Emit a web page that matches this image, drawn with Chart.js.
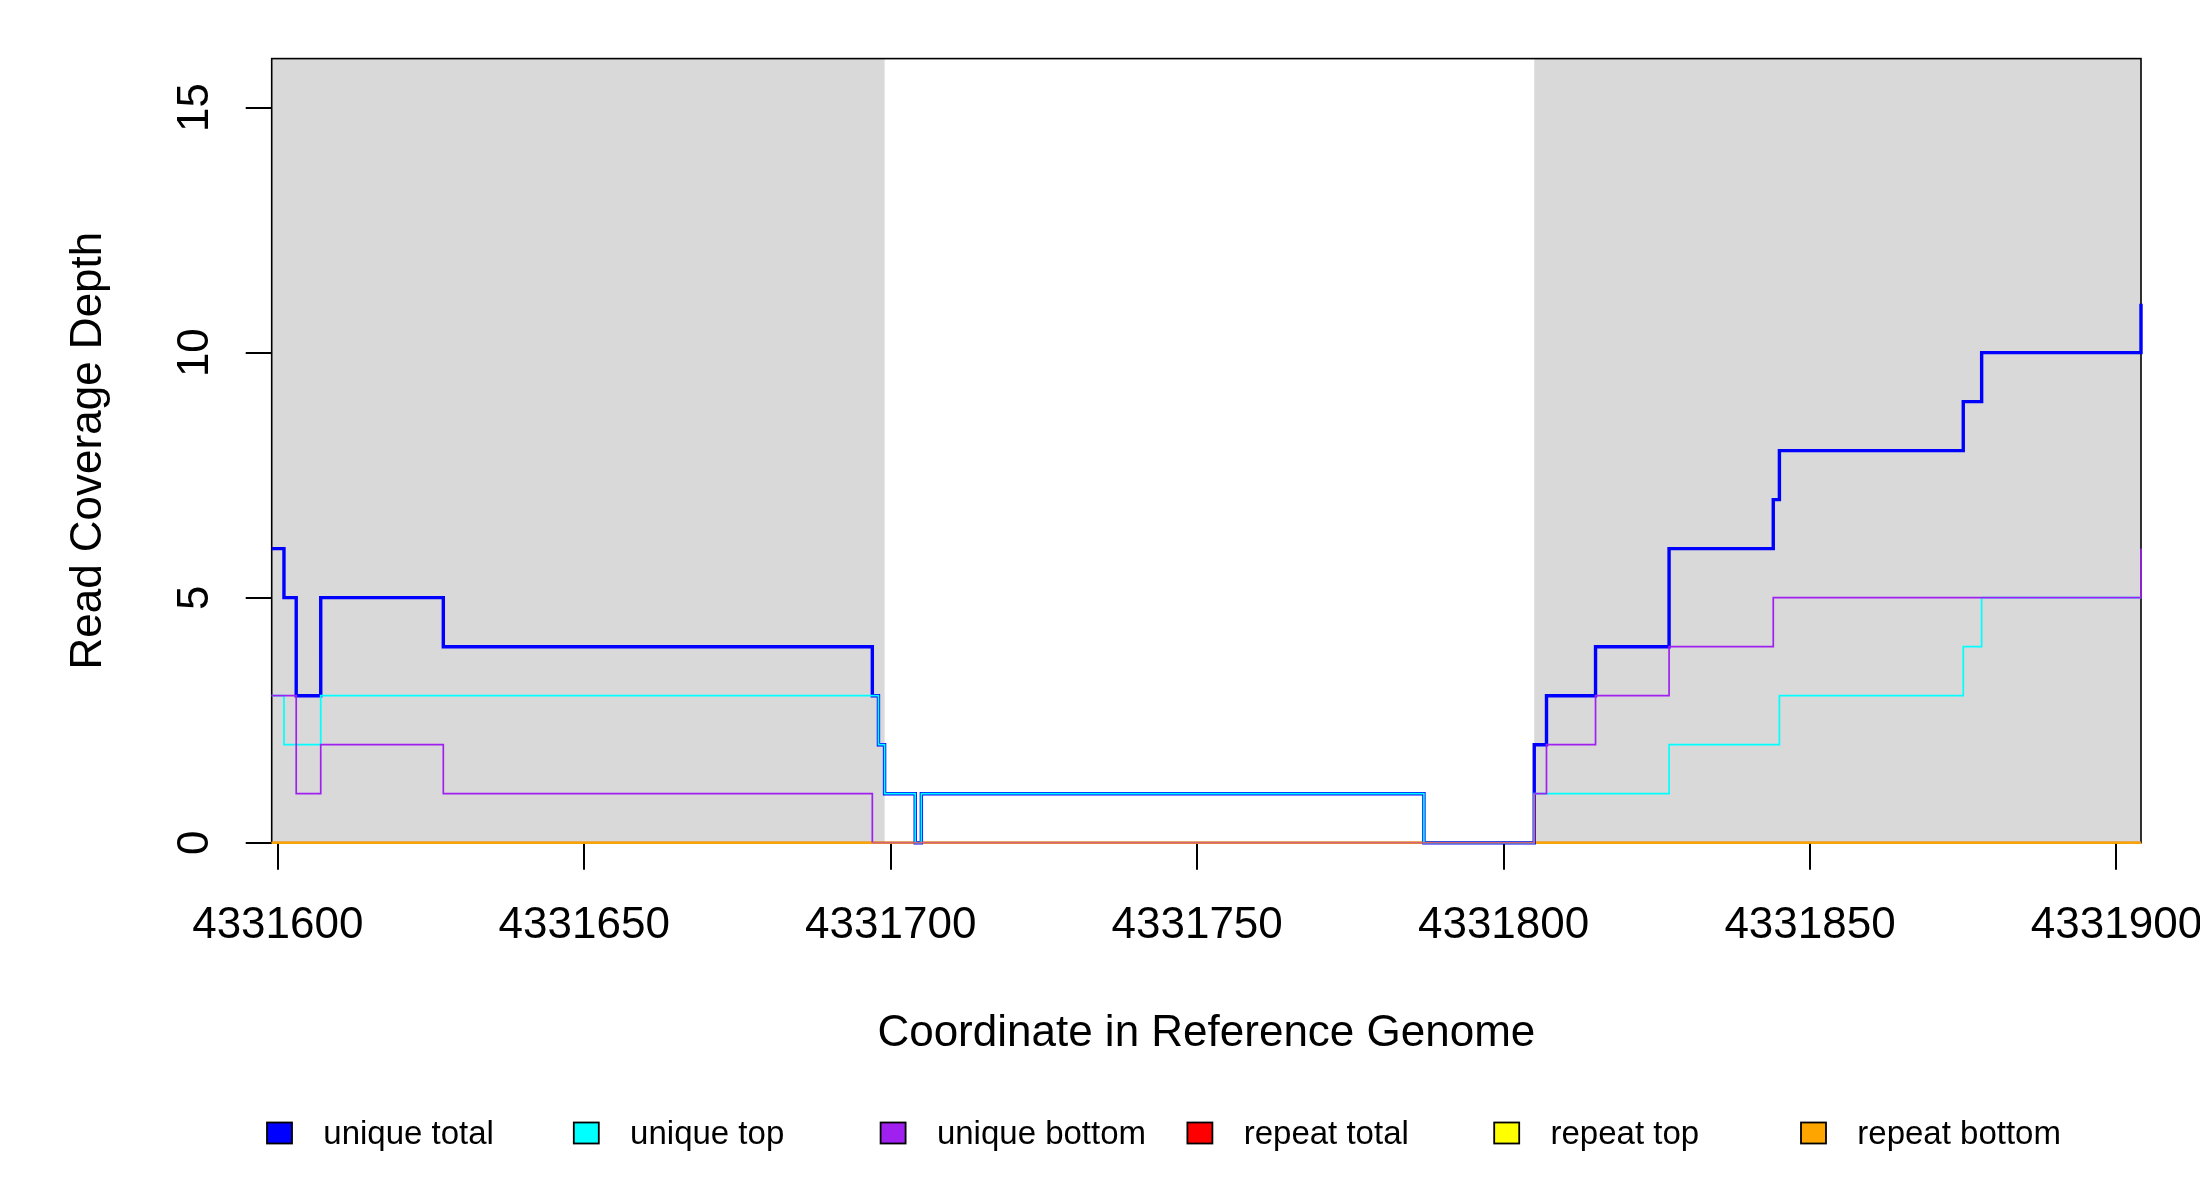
<!DOCTYPE html>
<html>
<head>
<meta charset="utf-8">
<script src="https://cdn.jsdelivr.net/npm/chart.js@4.4.1/dist/chart.umd.min.js"></script>
<style>
html, body { margin: 0; padding: 0; background: #fff; }
#wrap { width: 2200px; height: 1200px; }
</style>
</head>
<body>
<div id="wrap"><canvas id="chart1" width="2200" height="1200"></canvas></div>
<script>
// axis ranges and ticks
const xMin = 4331599;
const xMax = 4331904;
const yMax = 16;
const xTicks = [4331600, 4331650, 4331700, 4331750, 4331800, 4331850, 4331900];
const yTicks = [0, 5, 10, 15];

// shaded flanks
const shadeFrom = [4331599, 4331805];
const shadeTo = [4331699, 4331904];

const seriesNames = ['unique total', 'unique top', 'unique bottom', 'repeat total', 'repeat top', 'repeat bottom'];
const seriesColors = ['#0000FF', '#00FFFF', '#A020F0', '#FF0000', '#FFFF00', '#FFA500'];

// coverage: value holds from each position until the next one
const uniqueTotalPos = [4331599, 4331601, 4331603, 4331607, 4331627, 4331697, 4331698, 4331699, 4331704, 4331705,
                        4331787, 4331805, 4331807, 4331815, 4331827, 4331844, 4331845, 4331875, 4331878, 4331904];
const uniqueTotal    = [6, 5, 3, 5, 4, 3, 2, 1, 0, 1, 0, 2, 3, 4, 6, 7, 8, 9, 10, 11];

const uniqueTopPos = [4331599, 4331601, 4331607, 4331698, 4331699, 4331704, 4331705, 4331787, 4331805,
                      4331827, 4331845, 4331875, 4331878, 4331904];
const uniqueTop    = [3, 2, 3, 2, 1, 0, 1, 0, 1, 2, 3, 4, 5, 5];

const uniqueBottomPos = [4331599, 4331603, 4331607, 4331627, 4331697, 4331805, 4331807, 4331815, 4331827, 4331844, 4331904];
const uniqueBottom    = [3, 1, 2, 1, 0, 1, 2, 3, 4, 5, 6];

const repeatPos    = [4331599, 4331904];
const repeatTotal  = [0, 0];
const repeatTop    = [0, 0];
const repeatBottom = [0, 0];

function steps(pos, vals) {
    return pos.map((p, i) => ({x: p, y: vals[i]}));
}

const seriesData = [
    steps(uniqueTotalPos, uniqueTotal),
    steps(uniqueTopPos, uniqueTop),
    steps(uniqueBottomPos, uniqueBottom),
    steps(repeatPos, repeatTotal),
    steps(repeatPos, repeatTop),
    steps(repeatPos, repeatBottom)
];
const widths = [3.4, 1.7, 1.7, 1.7, 1.7, 1.7];
const drawOrder = [2, 1, 0, 5, 4, 3]; // lower = drawn on top

const FONT = '"Liberation Sans", Arial, Helvetica, sans-serif';
Chart.defaults.font.family = FONT;
Chart.defaults.color = '#000';

const area = {left: 271.7, right: 2141, top: 58.6, bottom: 842.7};

// purple lying on the orange zero line blends to pink in the original
const zeroBlend = ctx => (ctx.p0.parsed.y === 0 ? '#D26478' : undefined);

const framePlugin = {
    id: 'frame',
    beforeDatasetsDraw(chart) {
        const c = chart.ctx, xs = chart.scales.x, ca = chart.chartArea;
        c.save();
        c.fillStyle = '#D9D9D9';
        for (let i = 0; i < shadeFrom.length; i++) {
            const a = xs.getPixelForValue(shadeFrom[i]);
            const b = xs.getPixelForValue(shadeTo[i]);
            c.fillRect(a, ca.top, b - a, ca.bottom - ca.top);
        }
        c.strokeStyle = '#000';
        c.lineWidth = 1.6;
        c.strokeRect(ca.left, ca.top, ca.right - ca.left, ca.bottom - ca.top);
        c.restore();
    },
    afterDraw(chart) {
        const c = chart.ctx;
        c.save();
        c.font = '33px ' + FONT;
        c.textBaseline = 'alphabetic';
        c.textAlign = 'left';
        for (let i = 0; i < seriesNames.length; i++) {
            const bx = 267 + i * 306.8;
            c.fillStyle = seriesColors[i];
            c.fillRect(bx, 1122.5, 25, 21);
            c.strokeStyle = '#000';
            c.lineWidth = 1.8;
            c.strokeRect(bx, 1122.5, 25, 21);
            c.fillStyle = '#000';
            c.fillText(seriesNames[i], 323.3 + i * 306.8, 1144);
        }
        c.restore();
    }
};

new Chart(document.getElementById('chart1'), {
    type: 'line',
    data: {
        datasets: seriesData.map((d, i) => ({
            label: seriesNames[i],
            data: d,
            borderColor: seriesColors[i],
            backgroundColor: seriesColors[i],
            borderWidth: widths[i],
            stepped: 'before',
            pointRadius: 0,
            fill: false,
            clip: false,
            order: drawOrder[i],
            segment: i === 2 ? {borderColor: zeroBlend} : undefined
        }))
    },
    options: {
        responsive: false,
        animation: false,
        devicePixelRatio: 1,
        layout: {padding: {top: area.top, right: 2200 - area.right, bottom: 0, left: 0}},
        plugins: {legend: {display: false}, tooltip: {enabled: false}},
        scales: {
            x: {
                type: 'linear',
                min: xMin,
                max: xMax,
                afterBuildTicks: s => { s.ticks = xTicks.map(v => ({value: v})); },
                afterFit: s => { s.height = 1200 - area.bottom; s.paddingLeft = 0; s.paddingRight = 0; },
                ticks: {
                    callback: v => String(v),
                    autoSkip: false, maxRotation: 0, minRotation: 0,
                    font: {size: 44}, color: '#000', padding: 30
                },
                grid: {drawOnChartArea: false, drawTicks: true, tickLength: 27, color: '#000', lineWidth: 2},
                border: {display: false},
                title: {display: true, text: 'Coordinate in Reference Genome', font: {size: 44}, color: '#000',
                        padding: {top: 0, bottom: 140}}
            },
            y: {
                type: 'linear',
                min: 0,
                max: yMax,
                afterBuildTicks: s => { s.ticks = yTicks.map(v => ({value: v})); },
                afterFit: s => { s.width = area.left; s.paddingTop = 0; s.paddingBottom = 0; },
                ticks: {
                    callback: v => String(v),
                    minRotation: 90, maxRotation: 90, crossAlign: 'center',
                    font: {size: 44}, color: '#000', padding: 25
                },
                grid: {drawOnChartArea: false, drawTicks: true, tickLength: 26, color: '#000', lineWidth: 2},
                border: {display: false},
                title: {display: true, text: 'Read Coverage Depth', font: {size: 44}, color: '#000',
                        padding: {top: 62.6, bottom: 0}}
            }
        }
    },
    plugins: [framePlugin]
});
</script>
</body>
</html>
